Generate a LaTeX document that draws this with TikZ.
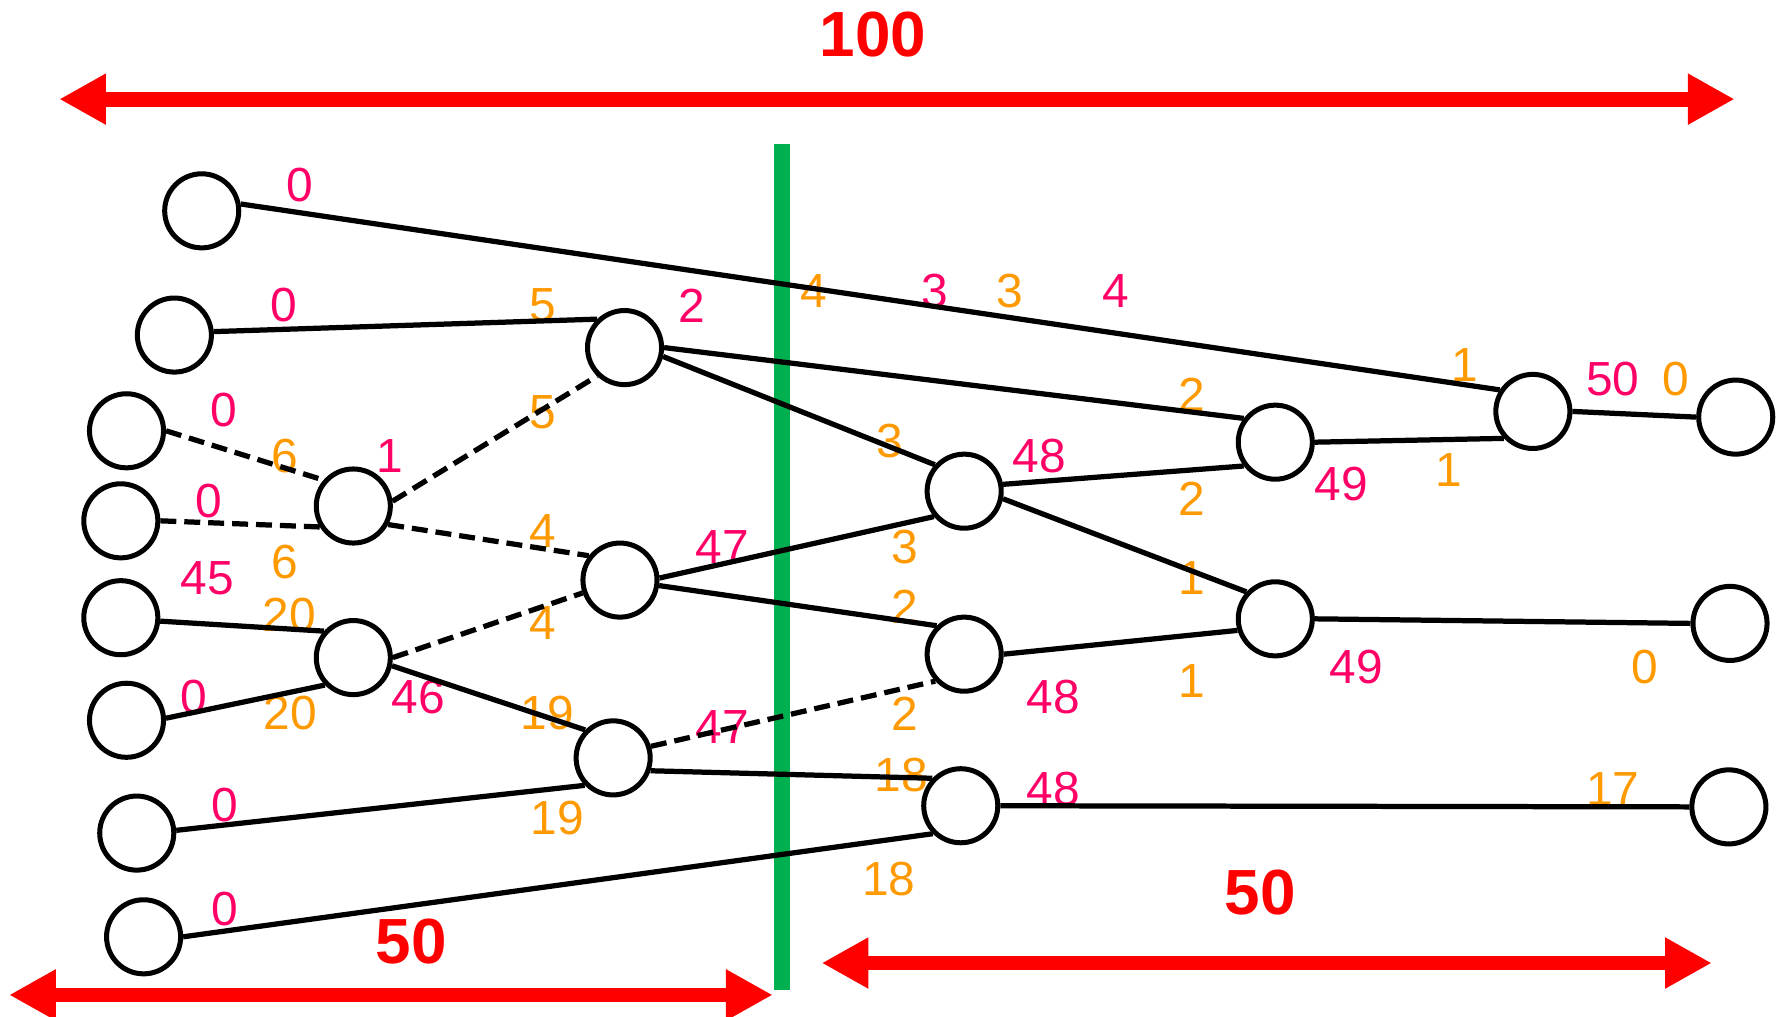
\documentclass[tikz,border=0pt]{standalone}
\usepackage{fontspec}
\setmainfont{Liberation Sans}
\usepackage{xcolor}
\usetikzlibrary{arrows.meta}
\definecolor{cutpink}{RGB}{255,0,102}
\definecolor{cutorange}{RGB}{255,153,0}
\definecolor{cutgreen}{RGB}{0,176,80}
\tikzset{
  vert/.style={circle, draw=black, line width=2.2pt, fill=white, inner sep=0pt, minimum size=32.5pt},
  edge/.style={line width=2.3pt},
  dashedge/.style={line width=2.3pt, dash pattern=on 7pt off 3.5pt},
  lp/.style={text=cutpink, inner sep=0pt, font=\fontsize{21}{21}\selectfont},
  lo/.style={text=cutorange, inner sep=0pt, font=\fontsize{21}{21}\selectfont},
  span/.style={line width=6.5pt, draw=red, {Triangle[length=20.5pt,width=21pt]}-{Triangle[length=20.5pt,width=21pt]}},
  spanlabel/.style={text=red, inner sep=0pt, font=\bfseries\fontsize{28}{28}\selectfont}
}
\begin{document}
\begin{tikzpicture}[x=0.5pt, y=-0.5pt]
\useasboundingbox (0,0) rectangle (1568,892);
\clip (0,0) rectangle (1568,892);

% cut line
\coordinate (cuttop) at (686,126);
\coordinate (cutbot) at (686,869);
\draw[cutgreen, line width=7pt] (cuttop) -- (cutbot);

% spans
\coordinate (alla) at (52,87);
\coordinate (allb) at (1522,87);
\draw[span] (alla) -- (allb);
\node[spanlabel] (alltext) at (766,30) {100};
\coordinate (lefta) at (8,873);
\coordinate (leftb) at (678,873);
\draw[span] (lefta) -- (leftb);
\node[spanlabel] (lefttext) at (361,826) {50};
\coordinate (righta) at (721,845);
\coordinate (rightb) at (1502,845);
\draw[span] (righta) -- (rightb);
\node[spanlabel] (righttext) at (1106,783) {50};

% labels
\node[lp] (p1) at (263,162) {0};
\node[lp] (p2) at (249,268) {0};
\node[lp] (p3) at (196,360) {0};
\node[lp] (p4) at (183,440) {0};
\node[lp] (p5) at (182,507) {45};
\node[lp] (p6) at (170,612) {0};
\node[lp] (p7) at (197,706) {0};
\node[lp] (p8) at (197,798) {0};
\node[lp] (p9) at (342,400) {1};
\node[lp] (p10) at (367,612) {46};
\node[lp] (p11) at (607,268) {2};
\node[lp] (p12) at (634,480) {47};
\node[lp] (p13) at (634,638) {47};
\node[lp] (p14) at (820,255) {3};
\node[lp] (p15) at (979,255) {4};
\node[lp] (p16) at (912,400) {48};
\node[lp] (p17) at (924,612) {48};
\node[lp] (p18) at (924,692) {48};
\node[lp] (p19) at (1177,425) {49};
\node[lp] (p20) at (1190,585) {49};
\node[lp] (p21) at (1415,333) {50};

\node[lo] (o1) at (476,268) {5};
\node[lo] (o2) at (476,362) {5};
\node[lo] (o3) at (250,400) {6};
\node[lo] (o4) at (250,493) {6};
\node[lo] (o5) at (476,466) {4};
\node[lo] (o6) at (476,547) {4};
\node[lo] (o7) at (254,540) {20};
\node[lo] (o8) at (255,626) {20};
\node[lo] (o9) at (480,626) {19};
\node[lo] (o10) at (489,718) {19};
\node[lo] (o11) at (714,255) {4};
\node[lo] (o12) at (886,255) {3};
\node[lo] (o13) at (781,387) {3};
\node[lo] (o14) at (794,480) {3};
\node[lo] (o15) at (794,532) {2};
\node[lo] (o16) at (794,626) {2};
\node[lo] (o17) at (791,680) {18};
\node[lo] (o18) at (780,771) {18};
\node[lo] (o19) at (1046,346) {2};
\node[lo] (o20) at (1046,438) {2};
\node[lo] (o21) at (1046,507) {1};
\node[lo] (o22) at (1046,598) {1};
\node[lo] (o23) at (1285,320) {1};
\node[lo] (o24) at (1271,412) {1};
\node[lo] (o25) at (1470,333) {0};
\node[lo] (o26) at (1443,585) {0};
\node[lo] (o27) at (1415,692) {17};

% vertices
\node[vert] (l1) at (177,185) {};
\node[vert] (l2) at (153,294) {};
\node[vert] (l3) at (111,378) {};
\node[vert] (l4) at (106,457) {};
\node[vert] (l5) at (106,542) {};
\node[vert] (l6) at (111,632) {};
\node[vert] (l7) at (120,731) {};
\node[vert] (l8) at (126,822) {};
\node[vert] (m1) at (310,444) {};
\node[vert] (m2) at (310,577) {};
\node[vert] (n1) at (548,305) {};
\node[vert] (n2) at (544,509) {};
\node[vert] (n3) at (538,665) {};
\node[vert] (c1) at (846,431) {};
\node[vert] (c2) at (846,574) {};
\node[vert] (c3) at (843,707) {};
\node[vert] (q1) at (1119,388) {};
\node[vert] (q2) at (1119,543) {};
\node[vert] (r1) at (1345,361) {};
\node[vert] (s1) at (1523,366) {};
\node[vert] (s2) at (1518,547) {};
\node[vert] (s3) at (1517,708) {};

% edges
\draw[edge] (l1.10) -- (r1.147);
\draw[edge] (l2.5) -- (n1.134);
\draw[dashedge] (l3.0) -- (m1.139);
\draw[dashedge] (l4.0) -- (m1.212);
\draw[dashedge] (m1.7) -- (n1.226);
\draw[dashedge] (m1.-28) -- (n2.142);
\draw[edge] (l5.-5) -- (m2.138);
\draw[edge] (l6.3) -- (m2.224);
\draw[dashedge] (m2.0) -- (n2.199);
\draw[edge] (m2.-12) -- (n3.135);
\draw[edge] (l7.4) -- (n3.224);
\draw[edge] (l8.0) -- (c3.225);
\draw[edge] (n1.0) -- (q1.143);
\draw[edge] (n1.-13) -- (c1.138);
\draw[edge] (n2.3) -- (c1.220);
\draw[edge] (n2.-8) -- (c2.134);
\draw[dashedge] (n3.17) -- (c2.223);
\draw[edge] (n3.-19) -- (c3.136);
\draw[edge] (c1.10) -- (q1.217);
\draw[edge] (c1.-11) -- (q2.137);
\draw[edge] (c2.0) -- (q2.197);
\draw[edge] (q1.0) -- (r1.223);
\draw[edge] (r1.0) -- (s1.180);
\draw[edge] (q2.0) -- (s2.180);
\draw[edge] (c3.0) -- (s3.180);
\end{tikzpicture}
\end{document}
